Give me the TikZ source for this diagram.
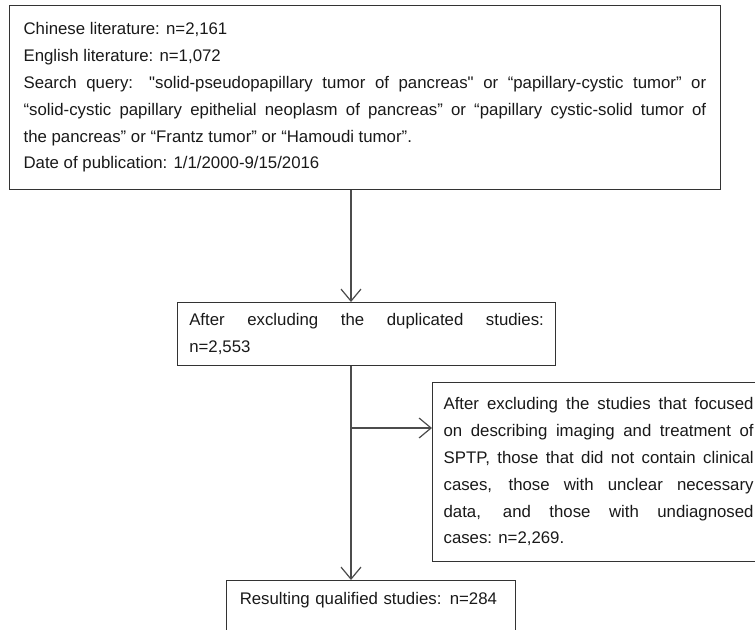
\documentclass[tikz,border=0pt]{standalone}
\usepackage{fontspec}
\setmainfont{Liberation Sans}[Ligatures=TeXOff]
\usetikzlibrary{arrows.meta}

\begin{document}
\begin{tikzpicture}[x=0.75pt,y=-0.75pt,
    box/.style={draw=black!80,line width=0.9pt,anchor=north west,align=justify,
        text=black!90,font=\fontsize{12.6}{20.1}\selectfont},
    arr/.style={draw=black!70,line width=0.9pt,-{Straight Barb[length=9pt,width=15pt,line width=0.9pt]}}]
    \useasboundingbox (0,0) rectangle (755,629);
    \clip (0,0) rectangle (755,629);

    \node[box,text width=512pt,minimum width=533pt,minimum height=138pt] (search) at (9,5)
    {Chinese literature: n=2,161\\
    English literature: n=1,072\\
    Search query: "solid-pseudopapillary tumor of pancreas" or “papillary-cystic tumor” or\linebreak
    “solid-cystic papillary epithelial neoplasm of pancreas” or “papillary cystic-solid tumor of\linebreak
    the pancreas” or “Frantz tumor” or “Hamoudi tumor”.\\
    Date of publication: 1/1/2000-9/15/2016};

    \node[box,text width=266pt,minimum width=283.5pt,minimum height=47pt] (dedup) at (177,302)
    {After excluding the duplicated studies:\linebreak n=2,553};

    \node[box,text width=232.5pt,minimum width=249pt,minimum height=134pt] (exclude) at (432,382)
    {After excluding the studies that focused\linebreak
    on describing imaging and treatment of\linebreak
    SPTP, those that did not contain clinical\linebreak
    cases, those with unclear necessary\linebreak
    data, and those with undiagnosed\linebreak
    cases: n=2,269.};

    \node[box,align=left,text width=197pt,minimum width=216.75pt,inner ysep=9pt,text depth=40pt] (result) at (226,580)
    {Resulting qualified studies: n=284};

    \coordinate (trunk) at (351,0);
    \coordinate (fork) at (351,428);

    \draw[arr] (search.south -| trunk) -- (dedup.north -| trunk);
    \draw[arr] (dedup.south -| trunk) -- (result.north -| trunk);
    \draw[arr] (fork) -- (fork -| exclude.west);
\end{tikzpicture}
\end{document}
